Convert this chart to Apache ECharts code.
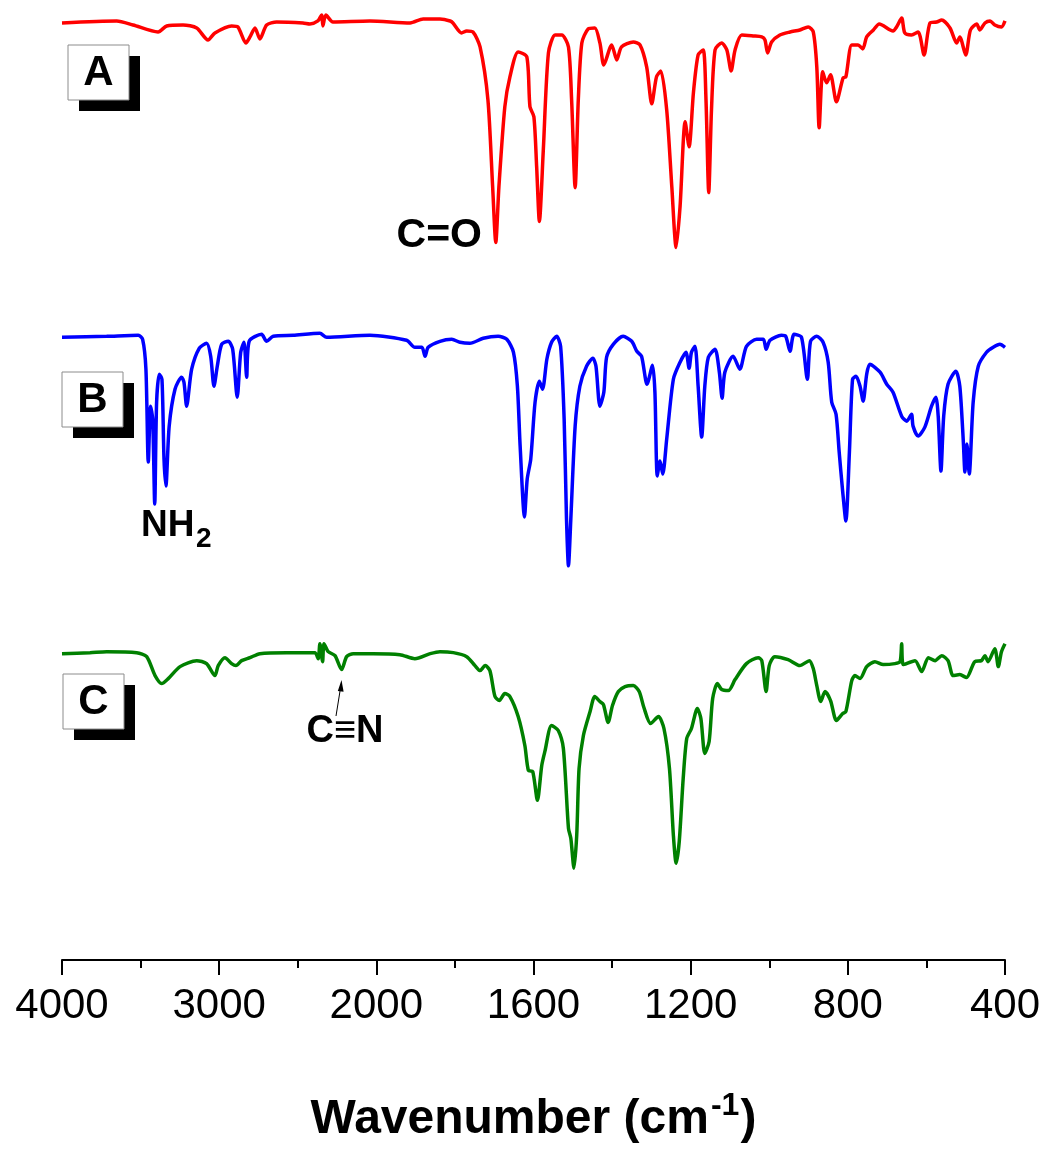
<!DOCTYPE html>
<html><head><meta charset="utf-8">
<script src="https://cdn.jsdelivr.net/npm/echarts@6/dist/echarts.min.js"></script>
<style>html,body{margin:0;padding:0;background:#fff}#c{width:1049px;height:1149px}</style>
</head><body><div id="c"></div>
<script>
// x tick labels (broken scale: 4000-2000 compressed, 2000-400 expanded)
const tickLabels = ['4000','3000','2000','1600','1200','800','400'];
const seriesNames = ['A','B','C'];
const seriesColors = ['#ff0000','#0000ff','#008000'];

// [wavenumber (cm-1), transmittance (a.u., offset)]
const specA = [[4000,93.9],[3652,94.1],[3548,93.7],[3389,93.0],[3334,93.6],[3230,93.7],[3143,93.4],[3071,92.2],[3027,92.9],[2921,93.6],[2881,93.5],[2830,91.9],[2804,92.5],[2772,93.4],[2741,92.3],[2698,93.7],[2634,94.0],[2467,93.9],[2423,93.8],[2372,94.1],[2348,94.7],[2340,93.6],[2321,94.7],[2276,94.0],[2041,94.1],
[1914,93.9],[1881,94.3],[1838,94.3],[1812,94.1],[1805,93.9],[1783,92.9],[1770,93.1],[1754,93.0],[1736,91.5],[1716,86.2],[1704,77.5],[1696,71.9],[1688,77.5],[1673,85.5],[1660,88.5],[1639,91.0],[1617,90.5],[1609,85.5],[1599,84.5],[1592,79.5],[1585,74.0],[1575,81.2],[1562,90.9],[1545,92.7],[1528,92.7],[1511,91.5],[1503,86.2],[1494,77.4],[1486,86.2],[1477,91.9],[1461,93.3],[1444,93.4],[1431,91.9],[1421,89.7],[1401,91.7],[1388,90.2],[1376,91.5],[1346,92.0],[1329,91.7],[1312,89.5],[1299,85.8],[1287,88.5],[1276,89.1],[1261,85.2],[1248,77.5],[1237,71.4],[1227,75.5],[1214,84.0],[1204,81.5],[1193,86.9],[1181,90.7],[1168,91.2],[1161,86.2],[1154,76.9],[1147,85.2],[1138,91.2],[1121,91.9],[1108,91.2],[1097,89.1],[1087,91.2],[1070,92.7],[1041,92.6],[1019,92.5],[1011,92.2],[1004,90.9],[994,92.0],[973,92.7],[947,93.0],[922,93.2],[901,93.5],[888,93.0],[879,89.5],[873,83.4],[864,89.0],[854,87.9],[844,88.7],[829,86.0],[812,88.4],[805,88.5],[790,91.7],[774,91.7],[762,91.3],[752,92.5],[735,93.2],[720,93.8],[685,93.1],[676,93.5],[663,94.4],[655,92.9],[638,92.7],[621,93.0],[606,90.7],[591,93.9],[574,94.0],[561,94.2],[540,93.4],[523,91.9],[515,92.5],[500,90.7],[488,93.2],[472,93.8],[464,93.2],[451,93.9],[438,94.1],[426,93.7],[409,93.5],[400,94.1]];

const specB = [[4000,62.4],[3716,62.5],[3515,62.6],[3487,62.2],[3466,59.2],[3451,49.9],[3436,55.5],[3423,54.2],[3410,45.7],[3398,55.9],[3381,58.7],[3364,58.2],[3351,50.2],[3339,47.5],[3318,53.5],[3281,57.2],[3239,58.4],[3224,57.9],[3207,55.5],[3175,59.2],[3127,61.3],[3080,61.8],[3054,60.5],[3033,57.5],[3012,59.5],[2984,61.7],[2942,62.0],[2914,61.2],[2885,56.4],[2863,60.9],[2842,61.9],[2825,58.4],[2809,62.0],[2730,62.7],[2698,62.0],[2656,62.5],[2529,62.6],[2359,62.8],[2316,62.4],[2041,62.6],
[1923,62.1],[1902,61.4],[1884,61.4],[1876,60.5],[1868,61.4],[1838,62.0],[1808,62.2],[1787,61.9],[1762,61.8],[1728,62.3],[1690,62.5],[1668,62.2],[1651,60.9],[1641,57.5],[1634,51.5],[1623,44.4],[1616,48.2],[1607,50.2],[1596,55.9],[1585,58.0],[1577,57.2],[1566,60.2],[1554,61.9],[1541,62.5],[1531,61.5],[1522,54.2],[1516,44.2],[1511,39.5],[1505,44.2],[1494,53.5],[1482,57.5],[1465,59.5],[1449,60.3],[1441,59.5],[1431,55.5],[1421,56.9],[1414,60.4],[1397,61.7],[1372,62.5],[1350,62.0],[1337,61.0],[1325,60.5],[1311,57.7],[1297,59.6],[1291,56.9],[1285,48.5],[1278,50.0],[1271,48.7],[1261,52.2],[1244,58.2],[1227,59.9],[1212,60.9],[1204,59.3],[1198,60.9],[1189,61.5],[1181,57.5],[1172,52.4],[1164,57.5],[1155,60.4],[1138,61.2],[1127,58.9],[1120,56.3],[1113,58.9],[1092,60.5],[1075,59.2],[1058,61.5],[1032,62.2],[1015,62.2],[1008,61.2],[998,62.1],[969,62.6],[958,62.5],[947,61.0],[937,62.7],[918,62.4],[903,58.2],[895,62.0],[879,62.5],[863,61.9],[850,59.9],[841,55.9],[830,54.7],[822,50.9],[813,46.9],[805,44.0],[796,50.9],[788,58.2],[779,58.5],[769,57.5],[761,56.0],[752,58.7],[744,59.7],[718,58.9],[701,57.7],[685,56.9],[663,54.5],[650,54.0],[638,54.7],[634,53.5],[621,52.5],[604,53.4],[587,55.5],[576,56.4],[570,54.5],[563,49.0],[556,54.5],[545,57.7],[525,59.0],[515,57.5],[506,51.9],[502,48.9],[497,51.7],[491,48.7],[481,55.9],[468,59.5],[447,60.9],[430,61.4],[413,61.7],[400,61.4]];

const specC = [[4000,30.7],[3822,30.8],[3716,30.9],[3525,30.8],[3461,30.4],[3408,28.5],[3366,27.7],[3324,28.2],[3249,29.4],[3143,30.0],[3080,29.7],[3027,28.5],[3006,29.5],[2963,30.3],[2921,29.7],[2893,29.5],[2857,30.0],[2804,30.3],[2741,30.7],[2571,30.8],[2391,30.8],[2370,30.2],[2359,31.7],[2342,29.9],[2333,31.7],[2306,30.9],[2263,30.5],[2221,29.1],[2189,30.4],[2147,30.7],[2020,30.7],
[1940,30.6],[1902,30.2],[1863,30.7],[1838,30.9],[1804,30.8],[1770,30.4],[1749,29.5],[1736,29.0],[1723,29.5],[1711,29.0],[1698,26.4],[1687,26.0],[1673,26.7],[1660,26.4],[1639,24.4],[1622,21.5],[1613,19.0],[1602,18.9],[1590,16.0],[1579,19.5],[1571,20.9],[1554,23.5],[1537,23.0],[1524,21.2],[1511,13.2],[1505,12.2],[1497,9.2],[1490,12.5],[1484,19.2],[1473,22.5],[1456,24.9],[1444,26.4],[1431,25.9],[1422,25.6],[1410,23.8],[1399,25.5],[1384,26.9],[1367,27.4],[1346,27.5],[1331,26.9],[1319,25.3],[1302,23.7],[1282,24.4],[1268,23.2],[1254,19.2],[1244,12.5],[1237,9.7],[1229,11.9],[1219,18.2],[1210,22.2],[1198,23.2],[1183,25.2],[1174,24.2],[1164,20.7],[1153,21.9],[1144,26.2],[1132,27.7],[1121,27.1],[1104,27.0],[1087,28.1],[1058,29.7],[1028,30.3],[1019,30.0],[1008,26.9],[1000,29.5],[986,30.4],[952,30.1],[922,29.5],[898,30.0],[888,29.2],[879,27.5],[869,25.9],[858,26.9],[844,26.0],[829,24.0],[813,24.7],[805,24.9],[790,28.0],[782,28.5],[769,28.2],[752,29.4],[731,29.9],[710,29.6],[680,29.7],[667,29.9],[663,31.7],[659,29.6],[629,30.0],[612,28.9],[595,30.3],[578,30.0],[561,30.5],[545,30.0],[532,28.5],[515,28.6],[498,28.3],[477,29.9],[460,30.0],[451,30.5],[443,29.9],[426,31.2],[417,29.4],[409,30.9],[400,31.7]];

const spectra = [specA, specB, specC];

// broken wavenumber scale -> axis position (one unit per tick)
function axisPos(w) { return w >= 2000 ? (4000 - w) / 1000 : 2 + (2000 - w) / 400; }

const chart = echarts.init(document.getElementById('c'), null, {renderer: 'canvas'});
const FONT = '"Liberation Sans", Arial, sans-serif';

function labelBox(x, y, letter) {
  return [
    {type: 'rect', shape: {x: x + 11, y: y + 11, width: 61, height: 55}, style: {fill: '#000'}, z: 10},
    {type: 'rect', shape: {x: x, y: y, width: 61, height: 55}, style: {fill: '#fff', stroke: '#8c8c8c', lineWidth: 1}, z: 11},
    {type: 'text', x: x + 30.5, y: y + 28, z: 12, style: {text: letter, font: 'bold 42px ' + FONT, fill: '#000', align: 'center', verticalAlign: 'middle'}}
  ];
}

const option = {
  animation: false,
  backgroundColor: '#fff',
  grid: {left: 62, right: 44, top: 12, bottom: 187},
  xAxis: {
    type: 'value', min: 0, max: 6, interval: 1,
    axisLine: {lineStyle: {color: '#000', width: 2}},
    axisTick: {length: 15, lineStyle: {color: '#000', width: 2}},
    minorTick: {show: true, splitNumber: 2, length: 8, lineStyle: {color: '#000', width: 2}},
    splitLine: {show: false},
    axisLabel: {formatter: v => tickLabels[Math.round(v)], fontSize: 42, color: '#000', fontFamily: FONT, margin: 25},
    name: '{main|Wavenumber (cm}{sup|-1}{main|)}',
    nameLocation: 'middle', nameGap: 130,
    nameTextStyle: {fontSize: 48, fontWeight: 'bold', color: '#000', fontFamily: FONT,
      rich: {
        main: {fontSize: 48, fontWeight: 'bold', color: '#000', fontFamily: FONT, lineHeight: 54, verticalAlign: 'bottom'},
        sup: {fontSize: 32, fontWeight: 'bold', color: '#000', fontFamily: FONT, lineHeight: 32, verticalAlign: 'top', padding: [0, 1, 0, 2]}
      }}
  },
  yAxis: {type: 'value', min: 0, max: 95, show: false},
  series: spectra.map((s, i) => ({
    name: seriesNames[i], type: 'line', showSymbol: false, smooth: 0.25,
    lineStyle: {color: seriesColors[i], width: 3.5}, itemStyle: {color: seriesColors[i]},
    data: s.map(p => [axisPos(p[0]), p[1]])
  })),
  graphic: [].concat(
    labelBox(68, 45, 'A'), labelBox(62, 372, 'B'), labelBox(63, 674, 'C'),
    [
      {type: 'text', x: 482, y: 236, style: {text: 'C=O', font: 'bold 41px ' + FONT, fill: '#000', align: 'right', verticalAlign: 'middle'}},
      {type: 'text', x: 141, y: 526, style: {text: 'NH', font: 'bold 37px ' + FONT, fill: '#000', align: 'left', verticalAlign: 'middle'}},
      {type: 'text', x: 196, y: 539, style: {text: '2', font: 'bold 28px ' + FONT, fill: '#000', align: 'left', verticalAlign: 'middle'}},
      {type: 'text', x: 345, y: 732, style: {text: 'C\u2261N', font: 'bold 38px ' + FONT, fill: '#000', align: 'center', verticalAlign: 'middle'}},
      {type: 'line', shape: {x1: 336, y1: 716, x2: 340.5, y2: 688}, style: {stroke: '#000', lineWidth: 1}},
      {type: 'polygon', shape: {points: [[341.5, 680], [337.8, 691], [343.6, 691.8]]}, style: {fill: '#000'}}
    ]
  )
};
chart.setOption(option);
</script></body></html>
